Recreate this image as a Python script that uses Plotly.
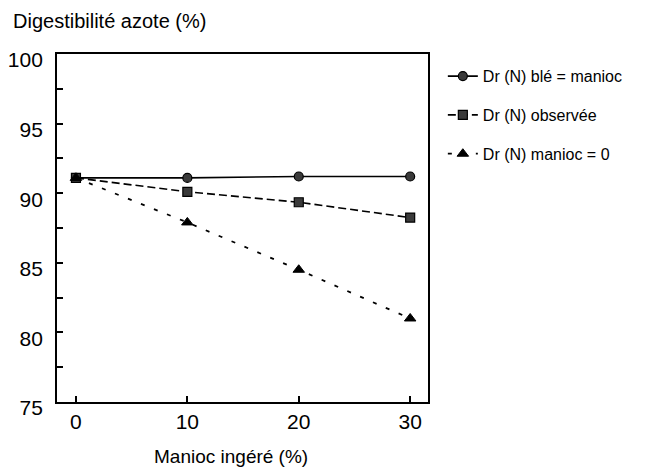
import plotly.graph_objects as go

x_vals = [0, 10, 20, 30]
ble_manioc = [91.1, 91.1, 91.2, 91.2]
observee = [91.1, 90.1, 89.35, 88.25]
manioc_zero = [91.1, 87.9, 84.5, 81.0]

names = ["Dr (N) blé = manioc", "Dr (N) observée", "Dr (N) manioc = 0"]
y_ticks = [75, 80, 85, 90, 95, 100]
x_ticks = [0, 10, 20, 30]

FONT = "Liberation Sans, Arial, sans-serif"

fig = go.Figure()
fig.add_trace(go.Scatter(x=x_vals, y=ble_manioc, name=names[0], mode="lines+markers",
                         line=dict(color="black", width=1.6, dash="solid"),
                         marker=dict(symbol="circle", size=9, color="#3a3a3a",
                                     line=dict(color="black", width=1.2)),
                         legendgroup="a"))
fig.add_trace(go.Scatter(x=x_vals, y=observee, name=names[1], mode="lines+markers",
                         line=dict(color="black", width=1.6, dash="8px,4px"),
                         marker=dict(symbol="square", size=9, color="#3a3a3a",
                                     line=dict(color="black", width=1.2)),
                         legendgroup="b"))
fig.add_trace(go.Scatter(x=x_vals, y=manioc_zero, name=names[2], mode="lines+markers",
                         line=dict(color="black", width=1.8, dash="4px,10px"),
                         marker=dict(symbol="triangle-up", size=10, color="black",
                                     line=dict(color="black", width=1)),
                         legendgroup="c"))

# The page adds an 8px body margin, so the figure is shrunk/offset by 8px to compensate
fig.update_layout(
    width=659, height=464,
    margin=dict(l=49, r=239, t=46, b=70, autoexpand=False),
    plot_bgcolor="white", paper_bgcolor="white",
    font=dict(family=FONT, color="black"),
    showlegend=True,
    legend=dict(x=1.040, y=0.985, xanchor="left", yanchor="top",
                font=dict(size=16, family=FONT, color="black"),
                tracegroupgap=15, bgcolor="rgba(0,0,0,0)", itemwidth=30),
)
fig.add_annotation(text="Digestibilité azote (%)", xref="paper", yref="paper",
                   x=-0.124, y=1.0, xanchor="left", yanchor="middle", yshift=33,
                   showarrow=False, font=dict(size=20, family=FONT, color="black"))
fig.add_annotation(text="Manioc ingéré (%)", xref="paper", yref="paper",
                   x=0.469, y=0.0, xanchor="center", yanchor="middle", yshift=-54,
                   showarrow=False, font=dict(size=19, family=FONT, color="black"))

fig.update_xaxes(range=[-1.7, 31.6], tickvals=x_ticks, ticktext=[str(v) for v in x_ticks],
                 ticks="inside", ticklen=6, tickwidth=1.5, tickcolor="black",
                 showline=True, linecolor="black", linewidth=1.8, mirror=True,
                 showgrid=False, zeroline=False, automargin=False,
                 tickfont=dict(size=21, family=FONT, color="black"))
fig.update_yaxes(range=[75, 100], tickvals=y_ticks, ticktext=[str(v) for v in y_ticks],
                 ticks="inside", ticklen=6, tickwidth=1.5, tickcolor="black",
                 minor=dict(dtick=2.5, tick0=75, ticks="inside", ticklen=6, tickwidth=1.5,
                            tickcolor="black", showgrid=False),
                 showline=True, linecolor="black", linewidth=1.8, mirror=True,
                 showgrid=False, zeroline=False, automargin=False,
                 tickfont=dict(size=21, family=FONT, color="black"),
                 ticklabelstandoff=8, ticklabelshift=6)

fig.write_html("out.html")
